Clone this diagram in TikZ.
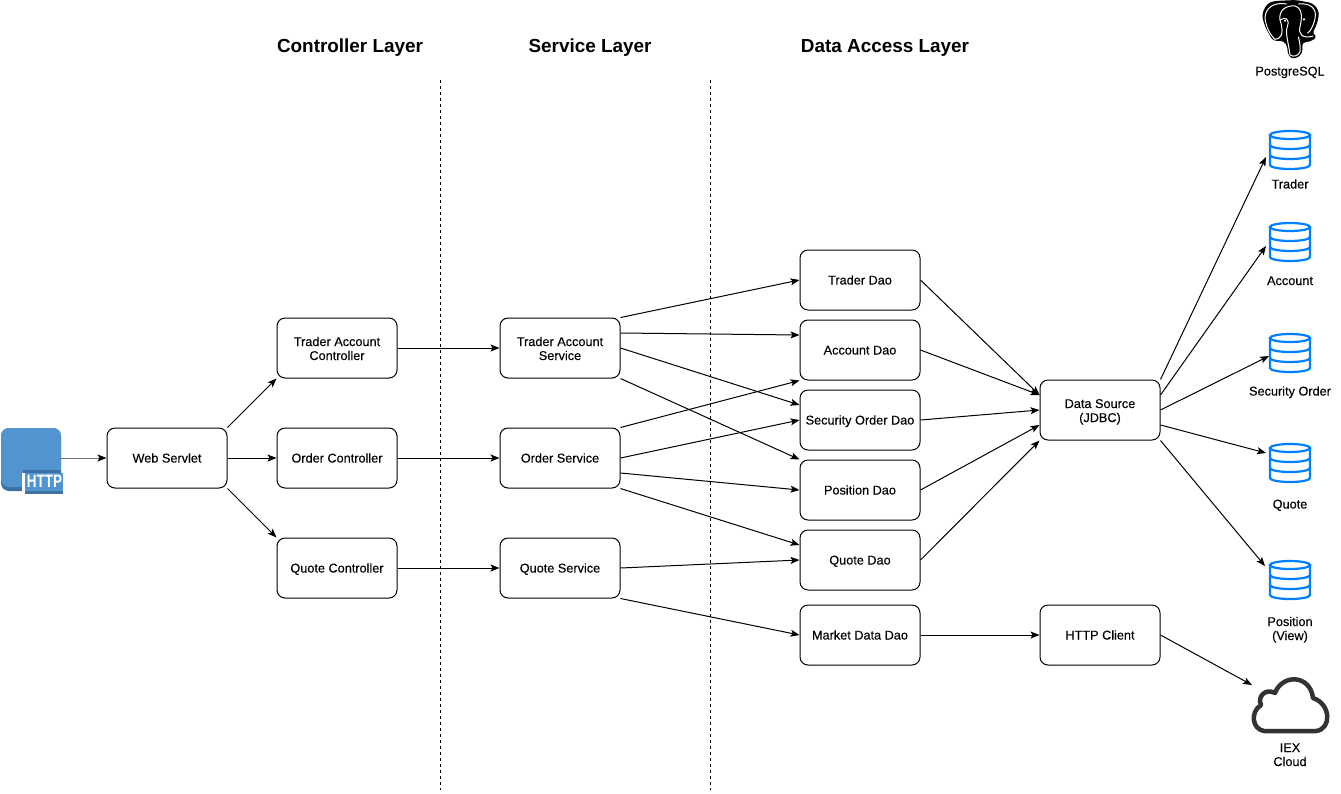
\documentclass[tikz,border=0pt]{standalone}
\usepackage{fontspec}
\setmainfont{Liberation Sans}[FakeBold=0.2, BoldFeatures={FakeBold=0}]
\usetikzlibrary{arrows.meta}
\definecolor{dbblue}{HTML}{007FFF}
\definecolor{httpblue}{HTML}{5294CF}
\definecolor{httpdark}{HTML}{3E6FA5}
\definecolor{clouddark}{HTML}{333333}
\newcommand{\firstrow}{\rule{0pt}{13pt}}
\newcommand{\lastrow}{\rule[-3pt]{0pt}{3pt}}

\begin{document}
\begin{tikzpicture}[
    x = 1pt, y = -1pt,
    line width = 1pt,
    every node/.style = {font = \fontsize{12.7}{14}\selectfont, align = center, inner sep = 0pt},
    textline/.style = {execute at begin node = {\rule{0pt}{12pt}}, execute at end node = {\rule[-3pt]{0pt}{3pt}}},
    box/.style = {draw, rounded corners = 8pt, minimum width = 120pt, minimum height = 60pt},
    title/.style = {font = \fontsize{18.9}{21}\selectfont\bfseries},
    flow/.style = {-{Stealth[length = 9pt, width = 7pt, inset = 2pt, black]}},
    layerline/.style = {dashed, dash pattern = on 3pt off 3pt},
    dbicon/.pic = {
	\draw[dbblue, line width = 2.2pt] (-20,-16) -- (-20,14)
	    arc[x radius = 20pt, y radius = 4pt, start angle = 180, end angle = 360] -- (20,-16);
	\draw[dbblue, line width = 2.2pt] (0,-16) ellipse[x radius = 20pt, y radius = 4pt];
	\draw[dbblue, line width = 2.2pt] (-20,-6) arc[x radius = 20pt, y radius = 4pt, start angle = 180, end angle = 360];
	\draw[dbblue, line width = 2.2pt] (-20,4) arc[x radius = 20pt, y radius = 4pt, start angle = 180, end angle = 360];
    }]

\useasboundingbox (0,0) rectangle (1341,793);

% layers
\path (350,47.5) node[title](controllerlayer) {Controller Layer}
      (590,47.5) node[title](servicelayer) {Service Layer}
      (885,47.5) node[title](datalayer) {Data Access Layer};
\coordinate (firsttop) at (440,80);
\coordinate (firstbottom) at (440,790);
\coordinate (secondtop) at (710,80);
\coordinate (secondbottom) at (710,790);
\draw[layerline] (firsttop) -- (firstbottom);
\draw[layerline] (secondtop) -- (secondbottom);

% http icon
\fill[httpdark, rounded corners = 8pt] (1,428) rectangle (61,491);
\fill[httpblue, rounded corners = 8pt] (1,428) rectangle (61,487);
\fill[white] (22,473) rectangle (25,493);
\fill[white] (25,488) rectangle (64,494);
\fill[httpdark] (23,470) rectangle (61,473);
\fill[httpblue] (25,473) rectangle (63,491);
\fill[httpdark] (25,491) rectangle (63,493.5);
\path (44.5,481.5) node[text = white, xscale = 0.75, transform shape, font = \fontsize{18}{18}\selectfont\bfseries](httptext) {HTTP};
\coordinate (httpout) at (60,458);

% boxes
\path (167,458) node[box, textline](servlet) {Web Servlet}
      (337,348) node[box](tracontroller) {\firstrow Trader Account\\Controller\lastrow}
      (337,458) node[box, textline](ordcontroller) {Order Controller}
      (337,568) node[box, textline](quocontroller) {Quote Controller}
      (560,348) node[box](traservice) {\firstrow Trader Account\\Service\lastrow}
      (560,458) node[box, textline](ordservice) {Order Service}
      (560,568) node[box, textline](quoservice) {Quote Service}
      (860,280) node[box, textline](tradao) {Trader Dao}
      (860,350) node[box, textline](accdao) {Account Dao}
      (860,420) node[box, textline](secdao) {Security Order Dao}
      (860,490) node[box, textline](posdao) {Position Dao}
      (860,560) node[box, textline](quodao) {Quote Dao}
      (860,635) node[box, textline](mktdao) {Market Data Dao}
      (1100,410) node[box](datasource) {\firstrow Data Source\\(JDBC)\lastrow}
      (1100,635) node[box, textline](httpclient) {HTTP Client};

% database icons
\path (1290,151) pic {dbicon}
      (1290,243) pic {dbicon}
      (1290,354) pic {dbicon}
      (1290,464) pic {dbicon}
      (1290,581) pic {dbicon};
\path (1290,184) node[textline](traderdb) {Trader}
      (1290,280.5) node[textline](accountdb) {Account}
      (1290,391) node[textline](securitydb) {Security Order}
      (1290,504) node[textline](quotedb) {Quote}
      (1290,628) node(positiondb) {\firstrow Position\\(View)\lastrow}
      (1290,71) node[textline](postgres) {PostgreSQL}
      (1290,754) node(iexcloud) {\firstrow IEX\\Cloud\lastrow};
\coordinate (traderin) at (1266,157);
\coordinate (accountin) at (1266,246);
\coordinate (securityin) at (1269,356);
\coordinate (quotein) at (1266,453);
\coordinate (positionin) at (1265,566);
\coordinate (cloudin) at (1252,685);

% elephant
\begin{scope}[x = 0.3333pt, y = -0.3333pt, shift = {(1230pt,0pt)}]
\fill[black, rounded corners = 4pt] (95,45) -- (110,12) -- (130,3) -- (200,0) -- (250,10) -- (268,35)
    -- (262,70) -- (246,103) -- (263,110) -- (240,126) -- (216,126) -- (218,160) -- (195,178)
    -- (175,170) -- (170,130) -- (150,120) -- (130,125) -- (105,80) -- cycle;
\draw[white, line width = 1pt] (170,12) .. controls (130,5) and (105,25) .. (105,55)
    .. controls (108,80) and (120,105) .. (135,118) .. controls (150,118) and (165,105) .. (150,60)
    .. controls (145,30) and (170,15) .. (195,18) .. controls (220,25) and (215,60) .. (210,80)
    .. controls (205,100) and (215,118) .. (250,108);
\draw[white, line width = 1pt] (205,12) .. controls (240,8) and (262,25) .. (255,55)
    .. controls (250,80) and (240,95) .. (232,100);
\draw[white, line width = 1pt] (150,60) .. controls (165,50) and (180,55) .. (172,80)
    .. controls (165,100) and (175,125) .. (180,165) .. controls (190,172) and (205,168) .. (210,155)
    .. controls (212,135) and (208,125) .. (205,110);
\fill[white] (165,62) circle[radius = 1.2pt] (222,58) circle[radius = 1.2pt];
\end{scope}

% cloud
\draw[clouddark, line width = 4.5pt, line join = round]
    (1264,731) -- (1316,731) .. controls (1332,729) and (1331,704) .. (1313,698)
    .. controls (1310,674) and (1282,674) .. (1275,693)
    .. controls (1266,688) and (1257,696) .. (1261,705)
    .. controls (1250,712) and (1252,729) .. (1264,731) -- cycle;

% connectors
\draw[flow, draw = black!55] (httpout) -- (servlet);
\draw[flow] (servlet.north east) -- (tracontroller.south west);
\draw[flow] (servlet) -- (ordcontroller);
\draw[flow] (servlet.south east) -- (quocontroller.north west);
\draw[flow] (tracontroller) -- (traservice);
\draw[flow] (ordcontroller) -- (ordservice);
\draw[flow] (quocontroller) -- (quoservice);
\draw[flow] (traservice.north east) -- (tradao.west);
\draw[flow] ([yshift = 15pt]traservice.east) -- ([yshift = 15pt]accdao.west);
\draw[flow] (traservice.east) -- ([yshift = 15pt]secdao.west);
\draw[flow] (traservice.south east) -- (posdao.north west);
\draw[flow] (ordservice.north east) -- (accdao.south west);
\draw[flow] (ordservice.east) -- (secdao.west);
\draw[flow] ([yshift = -15pt]ordservice.east) -- (posdao.west);
\draw[flow] (ordservice.south east) -- ([yshift = 15pt]quodao.west);
\draw[flow] (quoservice.east) -- (quodao.west);
\draw[flow] (quoservice.south east) -- (mktdao.west);
\draw[flow] (tradao.east) -- ([yshift = 15pt]datasource.west);
\draw[flow] (accdao.east) -- ([yshift = 15pt]datasource.west);
\draw[flow] (secdao.east) -- (datasource.west);
\draw[flow] (posdao.east) -- ([yshift = -15pt]datasource.west);
\draw[flow] (quodao.east) -- (datasource.south west);
\draw[flow] (mktdao) -- (httpclient);
\draw[flow] (datasource.north east) -- (traderin);
\draw[flow] ([yshift = 15pt]datasource.east) -- (accountin);
\draw[flow] (datasource.east) -- (securityin);
\draw[flow] ([yshift = -15pt]datasource.east) -- (quotein);
\draw[flow] (datasource.south east) -- (positionin);
\draw[flow] (httpclient.east) -- (cloudin);
\end{tikzpicture}
\end{document}
